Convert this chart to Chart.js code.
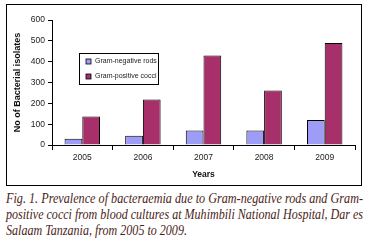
<!DOCTYPE html>
<html><head><meta charset="utf-8">
<script src="https://cdn.jsdelivr.net/npm/chart.js@4"></script>
<style>
html,body{margin:0;padding:0;background:#fff;width:369px;height:243px;overflow:hidden;}
#box{position:absolute;left:6px;top:4px;width:354px;height:180px;border:1.5px solid #000;}
#wrap{position:absolute;left:0;top:0;width:369px;height:190px;}
#cap{position:absolute;left:6px;top:191px;width:357px;font-family:"Liberation Serif",serif;font-style:italic;font-size:13.6px;line-height:16px;color:#4a2418;}
#cap span{display:inline-block;white-space:nowrap;transform-origin:0 50%;}
</style></head><body>
<div id="box"></div>
<div id="wrap"><canvas id="c" width="369" height="190"></canvas></div>
<div id="cap"><span class="j">Fig. 1. Prevalence of bacteraemia due to Gram-negative rods and Gram-</span><br><span class="j">positive cocci from blood cultures at Muhimbili National Hospital, Dar es</span><br><span id="l3">Salaam Tanzania, from 2005 to 2009.</span></div>
<script>
(function(){
  const spans = document.querySelectorAll('#cap span.j');
  let last = 1;
  spans.forEach(s => { const w = s.getBoundingClientRect().width; last = 357 / w; s.style.transform = 'scaleX(' + last + ')'; });
  document.getElementById('l3').style.transform = 'scaleX(' + last + ')';
})();
const years = ["2005","2006","2007","2008","2009"];
const gramNegative = [30, 45, 70, 70, 120];
const gramPositive = [137, 218, 430, 262, 490];
const seriesNames = ["Gram-negative rods", "Gram-positive cocci"];
const seriesColors = ["#9d9df8", "#a8306a"];

const legendBox = {
  id: 'legendBox',
  afterDraw(chart) {
    const ctx = chart.ctx;
    ctx.save();
    ctx.strokeStyle = '#000'; ctx.lineWidth = 1;
    ctx.strokeRect(79.5, 53.5, 79, 31);
    ctx.font = '7px "Liberation Sans", Arial, sans-serif';
    ctx.textBaseline = 'middle';
    chart.data.datasets.forEach((ds, i) => {
      const y = 61.5 + i * 15;
      ctx.fillStyle = ds.backgroundColor;
      ctx.fillRect(86, y - 2.5, 5, 5);
      ctx.strokeStyle = '#000'; ctx.lineWidth = 0.8;
      ctx.strokeRect(86, y - 2.5, 5, 5);
      ctx.fillStyle = '#222';
      ctx.fillText(ds.label, 95, y);
    });
    ctx.restore();
  }
};

new Chart(document.getElementById('c'), {
  type: 'bar',
  data: {
    labels: years,
    datasets: [
      { label: seriesNames[0], data: gramNegative, backgroundColor: seriesColors[0], borderColor: '#000', borderWidth: 1 },
      { label: seriesNames[1], data: gramPositive, backgroundColor: seriesColors[1], borderColor: '#000', borderWidth: 1 }
    ]
  },
  options: {
    responsive: false,
    animation: false,
    devicePixelRatio: 1,
    layout: { padding: { left: 8, right: 14, top: 20, bottom: 6 } },
    datasets: { bar: { categoryPercentage: 0.585, barPercentage: 1 } },
    plugins: { legend: { display: false }, tooltip: { enabled: false } },
    scales: {
      x: {
        grid: { drawOnChartArea: false, tickLength: 5, color: '#000', offset: true },
        border: { color: '#000', width: 1 },
        ticks: { color: '#222', font: { family: '"Liberation Sans", Arial', size: 8.5 }, padding: 3 },
        title: { display: true, text: 'Years', color: '#111', font: { family: '"Liberation Sans", Arial', size: 8.5, weight: 'bold' }, padding: { top: 13 } },
        afterFit(s) { s.height = 190 - 145 - 6; }
      },
      y: {
        min: 0, max: 600,
        grid: { drawOnChartArea: false, tickLength: 4, color: '#000' },
        border: { color: '#000', width: 1 },
        ticks: { stepSize: 100, color: '#222', font: { family: '"Liberation Sans", Arial', size: 8.5 }, padding: 3 },
        title: { display: true, text: 'No of Bacterial isolates', color: '#111', font: { family: '"Liberation Sans", Arial', size: 9, weight: 'bold' }, padding: { bottom: 5 } },
        afterFit(s) { s.width = 52 - 8; }
      }
    }
  },
  plugins: [legendBox]
});
</script>
</body></html>
